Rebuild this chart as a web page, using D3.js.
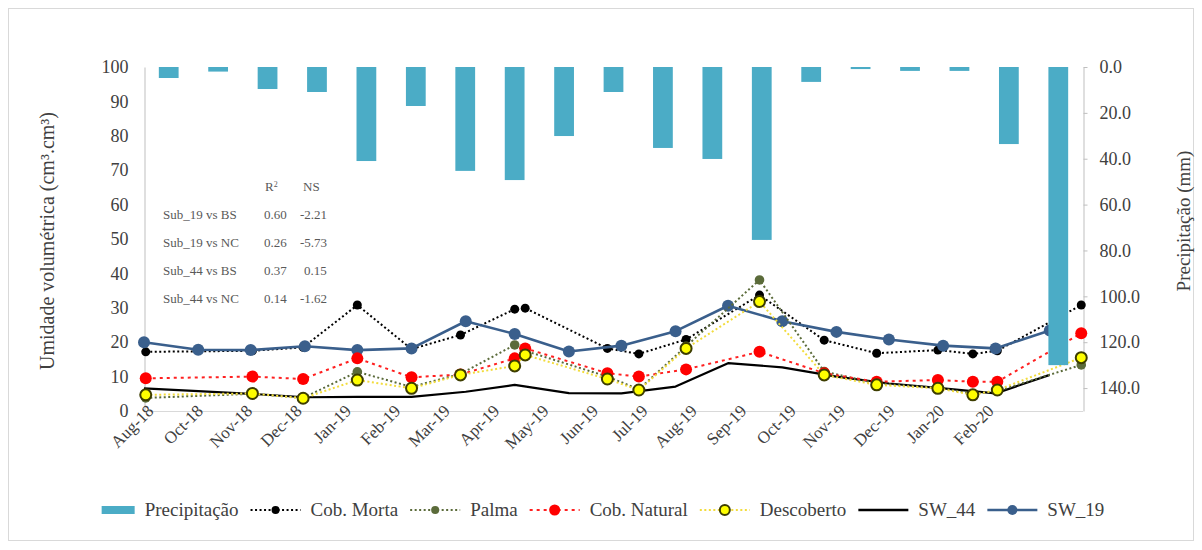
<!DOCTYPE html>
<html>
<head>
<meta charset="utf-8">
<script src="https://cdn.jsdelivr.net/npm/d3@7"></script>
<style>
  body { margin: 0; background: #fff; }
  svg { display: block; }
  text { font-family: "Liberation Serif", "Times New Roman", serif; }
</style>
</head>
<body>
<svg id="chart" width="1202" height="550"></svg>
<script>
// Monthly rainfall (mm), one bar per month
const months = ["Aug-18","Sep-18","Oct-18","Nov-18","Dec-18","Jan-19","Feb-19","Mar-19","Apr-19","May-19",
                "Jun-19","Jul-19","Aug-19","Sep-19","Oct-19","Nov-19","Dec-19","Jan-20","Feb-20"];
const precipitation = [4.8, 2.0, 9.6, 10.9, 41.0, 17.0, 45.3, 49.3, 30.1, 10.9,
                       35.3, 40.1, 75.4, 6.5, 0.9, 1.7, 1.7, 33.6, 130.0];

// Category labels printed under the plot
const axisLabels = ["Aug-18","Oct-18","Nov-18","Dec-18","Jan-19","Feb-19","Mar-19","Apr-19","May-19",
                    "Jun-19","Jul-19","Aug-19","Sep-19","Oct-19","Nov-19","Dec-19","Jan-20","Feb-20"];

// Satellite soil moisture (monthly)
const swDates = ["2018-08-01","2018-09-01","2018-10-01","2018-11-01","2018-12-01","2019-01-01",
                 "2019-02-01","2019-03-01","2019-04-01","2019-05-01","2019-06-01","2019-07-01",
                 "2019-08-01","2019-09-01","2019-10-01","2019-11-01","2019-12-01","2020-01-01"];
const sw44 = [6.6, 5.8, 5.0, 4.0, 4.1, 4.1, 5.6, 7.6, 5.2, 5.1, 7.1, 13.9, 12.7, 10.0, 8.0, 6.6, 5.1, 10.5];
const sw19 = [20.0, 17.8, 17.7, 18.8, 17.7, 18.2, 26.1, 22.4, 17.3, 19.0, 23.2, 30.6, 26.1, 23.0, 20.8, 19.0, 18.2, 23.4];

// Field measurements per soil cover
const obsDates = ["2018-08-02","2018-10-02","2018-10-31","2018-12-01","2019-01-01","2019-01-29",
                  "2019-03-01","2019-03-07","2019-04-23","2019-05-11","2019-06-07","2019-07-19",
                  "2019-08-25","2019-09-24","2019-10-29","2019-11-18","2019-12-02","2020-01-19"];
const cobMorta   = [17.2, 17.5, 18.5, 30.8, 18.0, 22.1, 29.6, 29.9, 18.2, 16.6, 20.8, 33.7, 20.6, 16.8, 17.7, 16.6, 17.5, 30.8];
const palma      = [3.8, 5.0, 3.8, 11.4, 7.0, 10.8, 19.2, 17.5, 10.0, 6.3, 18.8, 38.1, 11.5, 8.0, 6.8, 5.0, 5.8, 13.4];
const cobNatural = [9.5, 10.0, 9.3, 15.3, 9.8, 10.6, 15.3, 18.2, 11.0, 10.0, 12.1, 17.2, 11.0, 8.5, 9.0, 8.5, 8.5, 22.6];
const descoberto = [4.7, 5.1, 3.7, 9.0, 6.6, 10.5, 13.1, 16.3, 9.3, 6.1, 18.2, 31.8, 10.5, 7.6, 6.6, 4.7, 6.1, 15.5];

// Agreement statistics
const statRows = ["Sub_19 vs BS", "Sub_19 vs NC", "Sub_44 vs BS", "Sub_44 vs NC"];
const statR2   = ["0.60", "0.26", "0.37", "0.14"];
const statNS   = ["-2.21", "-5.73", "0.15", "-1.62"];

const leftTicks  = [0, 10, 20, 30, 40, 50, 60, 70, 80, 90, 100];
const rightTicks = [0, 20, 40, 60, 80, 100, 120, 140];

// ---------------------------------------------------------------
const svg = d3.select("#chart");
const M = { left: 144, right: 1083, top: 67, bottom: 411 };
const parse = d3.utcParse("%Y-%m-%d");

// chart frame
svg.append("rect")
  .attr("x", 8.5).attr("y", 8.5).attr("width", 1185).attr("height", 532)
  .attr("fill", "#fff").attr("stroke", "#d9d9d9");

const yLeft  = d3.scaleLinear().domain([0, 100]).range([M.bottom, M.top]);
const yRight = d3.scaleLinear().domain([0, 150]).range([M.top, M.bottom]);
const xBand  = d3.scaleBand().domain(months).range([M.left, M.right])
                 .paddingInner(0.6).paddingOuter(0.3);
const xLab   = d3.scalePoint().domain(axisLabels)
                 .range([M.left, M.left + (axisLabels.length - 1) * xBand.step()]);
const xTime  = d3.scaleUtc().domain([parse("2018-08-01"), parse("2020-01-20")]).range([M.left, M.right]);

const axisGray = "#bfbfbf";
const textCol = "#404040";

// bottom baseline
svg.append("line")
  .attr("x1", xTime.range()[0]).attr("x2", xTime.range()[1])
  .attr("y1", yLeft(0) + 0.5).attr("y2", yLeft(0) + 0.5)
  .attr("stroke", "#d9d9d9").attr("stroke-width", 1);

// left axis
const gL = svg.append("g").attr("transform", `translate(${M.left + 0.5},0)`)
  .call(d3.axisLeft(yLeft).tickValues(leftTicks).tickSize(0).tickPadding(16));
gL.select(".domain").attr("stroke", axisGray);
gL.selectAll("text").attr("font-size", 18).attr("fill", textCol)
  .attr("font-family", "Liberation Serif, Times New Roman, serif");

// right axis (reversed precipitation)
const gR = svg.append("g").attr("transform", `translate(${M.right + 0.5},0)`)
  .call(d3.axisRight(yRight).tickValues(rightTicks).tickFormat(d3.format(".1f"))
        .tickSize(4).tickSizeOuter(0).tickPadding(12));
gR.select(".domain").attr("stroke", axisGray);
gR.selectAll(".tick line").attr("stroke", axisGray);
gR.selectAll("text").attr("font-size", 18).attr("fill", textCol)
  .attr("font-family", "Liberation Serif, Times New Roman, serif");

// bottom category labels, rotated
const gB = svg.append("g").attr("transform", `translate(0,${M.bottom})`)
  .call(d3.axisBottom(xLab).tickSize(0));
gB.select(".domain").remove();
gB.selectAll("text")
  .attr("font-size", 17).attr("fill", textCol)
  .attr("font-family", "Liberation Serif, Times New Roman, serif")
  .attr("text-anchor", "end")
  .attr("x", 0).attr("y", 0).attr("dy", 0)
  .attr("transform", "translate(10,1) rotate(-45)");

// axis titles
svg.append("text")
  .attr("transform", `translate(54,${(M.top + M.bottom) / 2 + 2}) rotate(-90)`)
  .attr("text-anchor", "middle").attr("font-size", 20).attr("fill", textCol)
  .text("Umidade volumétrica (cm³.cm³)");
svg.append("text")
  .attr("transform", `translate(1190,${(M.top + M.bottom) / 2 - 18}) rotate(-90)`)
  .attr("text-anchor", "middle").attr("font-size", 19).attr("fill", textCol)
  .text("Precipitação  (mm)");

// statistics table
const tbl = svg.append("g").attr("fill", "#595959").attr("font-size", 13);
tbl.append("text").attr("x", 265).attr("y", 191).html("R<tspan dy='-4' font-size='8'>2</tspan>");
tbl.append("text").attr("x", 303).attr("y", 191).text("NS");
statRows.forEach((r, i) => {
  const y = 219 + i * 28;
  tbl.append("text").attr("x", 163).attr("y", y).text(r);
  tbl.append("text").attr("x", 264).attr("y", y).text(statR2[i]);
  tbl.append("text").attr("x", statNS[i].startsWith("-") ? 300 : 304).attr("y", y).text(statNS[i]);
});

// ---------------------------------------------------------------
// series definitions
const series = [
  { name: "SW_44", dates: swDates, values: sw44, stroke: "#000", width: 2.2, dash: null, r: 0 },
  { name: "Cob. Morta", dates: obsDates, values: cobMorta, stroke: "#000", width: 2, dash: "2,2.5", r: 4.5, fill: "#000" },
  { name: "SW_19", dates: swDates, values: sw19, stroke: "#3a5f8c", width: 2.6, dash: null, r: 6, fill: "#3a5f8c" },
  { name: "Palma", dates: obsDates, values: palma, stroke: "#5b6b3a", width: 2, dash: "2,2.5", r: 4.8, fill: "#5b6b3a" },
  { name: "Cob. Natural", dates: obsDates, values: cobNatural, stroke: "#ff2020", width: 2, dash: "3,4", r: 6, fill: "#ff0000" },
  { name: "Descoberto", dates: obsDates, values: descoberto, stroke: "#f2dc3c", width: 2, dash: "2,2.5", r: 5.5, fill: "#ffff00", ring: "#3d3d00" }
];

const line = d3.line().x(d => xTime(d[0])).y(d => yLeft(d[1]));

series.forEach(s => {
  const pts = s.dates.map((d, i) => [parse(d), s.values[i]]);
  svg.append("path").datum(pts)
    .attr("d", line).attr("fill", "none")
    .attr("stroke", s.stroke).attr("stroke-width", s.width)
    .attr("stroke-dasharray", s.dash)
    .attr("stroke-linejoin", "round");
  if (s.r > 0) {
    svg.append("g").selectAll("circle").data(pts).join("circle")
      .attr("cx", d => xTime(d[0])).attr("cy", d => yLeft(d[1]))
      .attr("r", s.r).attr("fill", s.fill)
      .attr("stroke", s.ring || "none").attr("stroke-width", s.ring ? 2 : 0);
  }
});

// precipitation bars hang from the top on the reversed right axis
svg.append("g").selectAll("rect").data(precipitation).join("rect")
  .attr("x", (d, i) => xBand(months[i]))
  .attr("width", xBand.bandwidth())
  .attr("y", yRight(0))
  .attr("height", d => yRight(d) - yRight(0))
  .attr("fill", "#4bacc6");

// ---------------------------------------------------------------
// legend
const legendItems = [
  { name: "Precipitação", kind: "bar", color: "#4bacc6" },
  { name: "Cob. Morta", kind: "dot", color: "#000", dash: "2,2.5", r: 4, fill: "#000" },
  { name: "Palma", kind: "dot", color: "#5b6b3a", dash: "2,2.5", r: 4, fill: "#5b6b3a" },
  { name: "Cob. Natural", kind: "dot", color: "#ff2020", dash: "3,4", r: 5.5, fill: "#ff0000" },
  { name: "Descoberto", kind: "dot", color: "#f2dc3c", dash: "2,2.5", r: 5, fill: "#ffff00", ring: "#3d3d00" },
  { name: "SW_44", kind: "line", color: "#000" },
  { name: "SW_19", kind: "line", color: "#3a5f8c", r: 5, fill: "#3a5f8c" }
];
const legY = 510;
const leg = svg.append("g");
const items = legendItems.map(it => {
  const g = leg.append("g");
  const symW = it.kind === "bar" ? 33 : 50;
  const t = g.append("text").attr("x", symW + 10).attr("y", 6)
    .attr("font-size", 19).attr("fill", textCol).text(it.name);
  const w = symW + 10 + t.node().getComputedTextLength();
  if (it.kind === "bar") {
    g.append("rect").attr("x", 0).attr("y", -4).attr("width", symW).attr("height", 8).attr("fill", it.color);
  } else {
    g.append("line").attr("x1", 0).attr("x2", symW).attr("y1", 0).attr("y2", 0)
      .attr("stroke", it.color).attr("stroke-width", it.kind === "line" ? 2.5 : 2)
      .attr("stroke-dasharray", it.dash || null);
    if (it.r) {
      g.append("circle").attr("cx", symW / 2).attr("cy", 0).attr("r", it.r)
        .attr("fill", it.fill).attr("stroke", it.ring || "none").attr("stroke-width", it.ring ? 2 : 0);
    }
  }
  return { g, w };
});
const gap = 12;
const total = d3.sum(items, d => d.w) + gap * (items.length - 1);
let cx = 603 - total / 2;
items.forEach(d => {
  d.g.attr("transform", `translate(${cx},${legY})`);
  cx += d.w + gap;
});
</script>
</body>
</html>
